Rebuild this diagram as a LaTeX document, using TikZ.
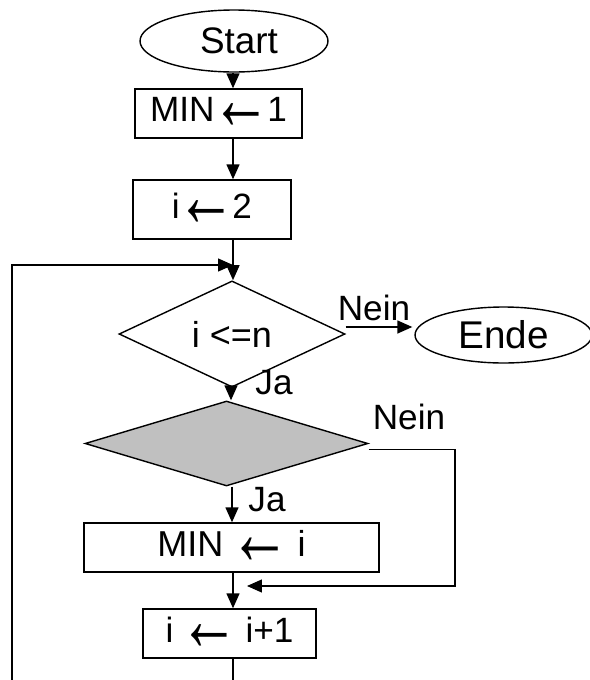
\documentclass[tikz,border=0pt]{standalone}
\usepackage{fontspec}
\setmainfont{Liberation Sans}
\usetikzlibrary{shapes.geometric,arrows.meta}
\definecolor{condgray}{RGB}{192,192,192}
\newcommand{\la}{\kern-0.1em\raisebox{-0.22em}{\smash{\scalebox{1.7}[2.6]{\char"2190}}}\kern-0.1em}
\tikzset{
 box/.style={draw,thick,rectangle,inner sep=0pt,font=\fontsize{20}{24}\selectfont},
 term/.style={draw,thick,ellipse,inner sep=0pt,font=\fontsize{21}{25}\selectfont},
 cond/.style={draw,thick,diamond,inner sep=0pt,font=\fontsize{20.5}{24}\selectfont},
 lab/.style={inner sep=1pt,font=\fontsize{20}{24}\selectfont},
 arr/.style={thick,-{Triangle[length=0.3cm,width=0.26cm]}}
}
\begin{document}
\begin{tikzpicture}[x=0.02cm,y=-0.02cm]
 \clip (0,0) rectangle (590,680);
 \useasboundingbox (0,0) rectangle (590,680);
 \node[term,minimum width=3.76cm,minimum height=1.24cm] (start) at (234,41) {\hspace{0.2cm}Start};
 \node[box,minimum width=3.34cm,minimum height=0.98cm] (min1) at (218.5,113.5) {MIN\la1};
 \node[box,minimum width=3.16cm,minimum height=1.18cm] (i2) at (212,209.5) {i\la2};
 \node[cond,minimum width=4.52cm,minimum height=1.76cm] (cmp) at (232,334) {i <=n};
 \node[term,minimum width=3.54cm,minimum height=1.12cm,font=\fontsize{22}{26}\selectfont] (ende) at (503.5,335) {Ende};
 \node[cond,fill=condgray,minimum width=5.66cm,minimum height=1.7cm] (test) at (226.5,443.5) {};
 \node[box,minimum width=5.9cm,minimum height=0.98cm,font=\fontsize{20.5}{25}\selectfont] (setmin) at (231.5,547.5) {MIN \la{} i};
 \node[box,minimum width=3.46cm,minimum height=0.98cm] (incr) at (229.5,633.5) {i \la{} i+1};
 \coordinate (loopin) at (233,265);
 \coordinate (mergein) at (247,586);
 \coordinate (neinturn) at (455,586);
 \draw[arr] (start.south -| 233,0) -- (min1.north -| 233,0);
 \draw[arr] (min1.south -| 233,0) -- (i2.north -| 233,0);
 \draw[arr] (i2.south -| 233,0) -- (cmp.north -| 233,0);
 \draw[arr] ([yshift=0.14cm]cmp.east) -- ([xshift=-0.04cm,yshift=0.16cm]ende.west);
 \node[lab] (nein1) at (374,308) {Nein};
 \draw[arr] (cmp.south -| 231,0) -- (test.north -| 231,0);
 \node[lab] (ja1) at (274,383) {Ja};
 \node[lab] (nein2) at (409,417) {Nein};
 \draw[arr] (test.south -| 232,0) -- (setmin.north -| 232,0);
 \node[lab] (ja2) at (267,500) {Ja};
 \draw[arr] ([yshift=-0.12cm]test.east) -| (neinturn) -- (mergein);
 \draw[arr] (setmin.south -| 233,0) -- (incr.north -| 233,0);
 \draw[arr] (incr.south -| 233,0) -- (233,700) -| (12,700) |- (loopin);
\end{tikzpicture}
\end{document}
